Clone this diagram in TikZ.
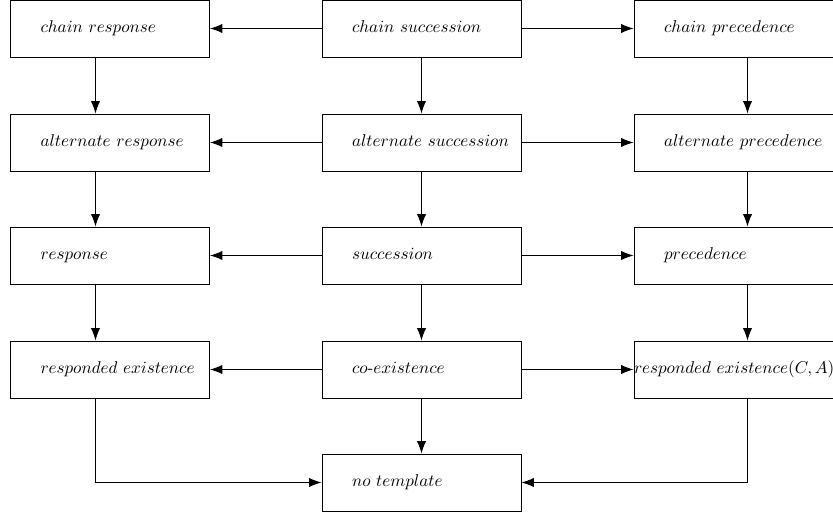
\documentclass[tikz,border=0pt]{standalone}
\usetikzlibrary{arrows.meta}
\begin{document}
\begin{tikzpicture}[x=0.585pt,y=-0.585pt,
  box/.style={draw,line width=0.5pt,rectangle,minimum height=33.35pt,
    text width=116.4pt,inner xsep=0pt,inner ysep=0pt,align=left,
    text height=1.6ex,text depth=0.5ex},
  arr/.style={line width=0.5pt,-{Latex[length=7.3pt,width=5.4pt]}}]
\useasboundingbox (0,0) rectangle (833,515);
\def\pad{\hspace*{17.55pt}}
% x positions of the side-column connectors
\coordinate (lx) at (95.5,0);
\coordinate (mx) at (421.5,0);
\coordinate (rx) at (747.5,0);
% boxes: left, middle, right column, rows from top
\node[box] (cr) at (110,28.5)   {\pad$chain\ response$};
\node[box] (cs) at (421.5,28.5) {\pad$chain\ succession$};
\node[box] (cp) at (733.5,28.5) {\pad$chain\ precedence$};
\node[box] (ar) at (110,142.5)   {\pad$alternate\ response$};
\node[box] (as) at (421.5,142.5) {\pad$alternate\ succession$};
\node[box] (ap) at (733.5,142.5) {\pad$alternate\ precedence$};
\node[box] (r) at (110,255.5)   {\pad$response$};
\node[box] (s) at (421.5,255.5) {\pad$succession$};
\node[box] (p) at (733.5,255.5) {\pad$precedence$};
\node[box] (re) at (110,369.5)   {\pad$responded\ existence$};
\node[box] (ce) at (421.5,369.5) {\pad$co\mbox{-}existence$};
\node[box] (rc) at (733.5,369.5) {$responded\ existence(C,A)$};
\node[box] (nt) at (421.5,482.5) {\pad$no\ template$};
% horizontal arrows out of the middle column
\foreach \m/\l/\r in {cs/cr/cp, as/ar/ap, s/r/p, ce/re/rc}{
  \draw[arr] (\m.west) -- (\l.east);
  \draw[arr] (\m.east) -- (\r.west);
}
% vertical arrows down each column
\foreach \a/\b in {cr/ar, ar/r, r/re}{
  \draw[arr] (\a.south -| lx) -- (\b.north -| lx);
}
\foreach \a/\b in {cs/as, as/s, s/ce, ce/nt}{
  \draw[arr] (\a.south -| mx) -- (\b.north -| mx);
}
\foreach \a/\b in {cp/ap, ap/p, p/rc}{
  \draw[arr] (\a.south -| rx) -- (\b.north -| rx);
}
% elbow connectors into the bottom node
\draw[arr] (re.south -| lx) |- (nt.west);
\draw[arr] (rc.south -| rx) |- (nt.east);
\end{tikzpicture}
\end{document}
